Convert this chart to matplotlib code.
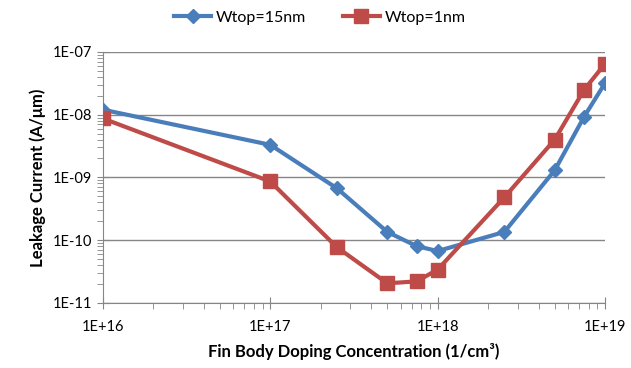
import matplotlib
matplotlib.use("Agg")
import matplotlib.pyplot as plt
from matplotlib.ticker import LogLocator, FixedLocator, NullFormatter

plt.rcParams['font.family'] = ['Lato', 'DejaVu Sans']

# doping concentration (1/cm3)
doping = [1e16, 1e17, 2.5e17, 5e17, 7.5e17, 1e18, 2.5e18, 5e18, 7.5e18, 1e19]
# leakage current (A/um)
wtop15 = [1.2e-8, 3.3e-9, 6.7e-10, 1.35e-10, 8.0e-11, 6.7e-11, 1.35e-10, 1.3e-9, 9.3e-9, 3.2e-8]
wtop1 = [8.7e-9, 8.6e-10, 7.7e-11, 2.05e-11, 2.2e-11, 3.4e-11, 4.8e-10, 4.0e-9, 2.5e-8, 6.5e-8]

blue = '#4A7EBB'
red = '#BE4B48'
grey = '#868686'

fig = plt.figure(figsize=(6.31, 3.68), dpi=100)
ax = fig.add_axes([0.163, 0.177, 0.796, 0.682])

ax.plot(doping, wtop15, color=blue, lw=3, marker='D', ms=7.5, label='Wtop=15nm', zorder=3)
ax.plot(doping, wtop1, color=red, lw=3, marker='s', ms=9.5, label='Wtop=1nm', zorder=3)

ax.set_xscale('log')
ax.set_yscale('log')
ax.set_xlim(1e16, 1e19)
ax.set_ylim(1e-11, 1e-7)

ax.xaxis.set_major_locator(FixedLocator([1e16, 1e17, 1e18, 1e19]))
ax.yaxis.set_major_locator(FixedLocator([1e-11, 1e-10, 1e-9, 1e-8, 1e-7]))
ax.set_xticklabels(['1E+16', '1E+17', '1E+18', '1E+19'])
ax.set_yticklabels(['1E-11', '1E-10', '1E-09', '1E-08', '1E-07'])
ax.xaxis.set_minor_locator(LogLocator(base=10, subs=range(2, 10)))
ax.yaxis.set_minor_locator(LogLocator(base=10, subs=range(2, 10)))
ax.xaxis.set_minor_formatter(NullFormatter())
ax.yaxis.set_minor_formatter(NullFormatter())

ax.grid(axis='y', which='major', color=grey, lw=1)
ax.set_axisbelow(True)
for s in ['top', 'right']:
    ax.spines[s].set_visible(False)
for s in ['left', 'bottom']:
    ax.spines[s].set_color(grey)
ax.tick_params(which='major', direction='inout', length=8, color=grey, labelsize=10.5)
ax.tick_params(which='minor', direction='out', length=4, color=grey)
ax.tick_params(axis='x', pad=8)

ax.set_xlabel('Fin Body Doping Concentration (1/cm\u00b3)', fontsize=12, fontweight='bold', labelpad=7)
ax.set_ylabel('Leakage Current (A/\u03bcm)', fontsize=12, fontweight='bold', labelpad=5)

fig.legend(loc='upper center', bbox_to_anchor=(0.507, 1.01), ncol=2, frameon=False,
           fontsize=11.5, handlelength=2.3, handletextpad=0.3, columnspacing=2.3)

fig.savefig('out.png', dpi=100)
